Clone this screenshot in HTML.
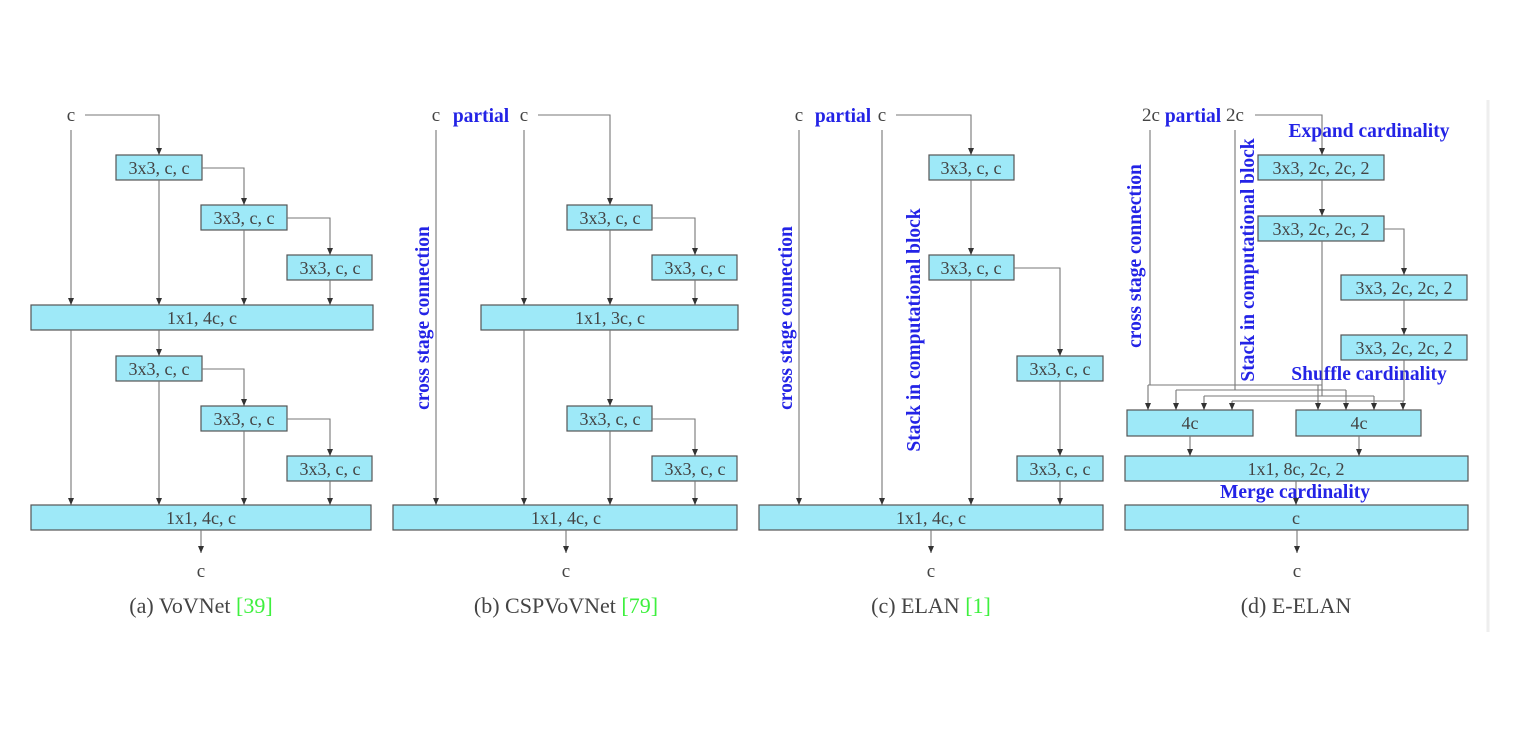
<!DOCTYPE html>
<html><head><meta charset="utf-8"><style>
html,body{margin:0;padding:0;background:#fff;}
svg{display:block;}
.b{fill:#9ee9f8;stroke:#555;stroke-width:1.2;}
.l{stroke:#777;stroke-width:1.1;fill:none;}
.t{font-family:"Liberation Serif",serif;font-size:18px;fill:#444;text-anchor:middle;}
.c{font-family:"Liberation Serif",serif;font-size:19px;fill:#444;text-anchor:middle;}
.bl{font-family:"Liberation Serif",serif;font-size:19.5px;font-weight:bold;fill:#2323e6;text-anchor:middle;}
.cap{font-family:"Liberation Serif",serif;font-size:22px;fill:#444;text-anchor:middle;}
.g{fill:#3ef03e;}
</style></head><body>
<svg width="1522" height="733" viewBox="0 0 1522 733">
<defs><marker id="a" markerWidth="8" markerHeight="8" refX="7" refY="4" orient="auto" markerUnits="userSpaceOnUse"><path d="M0,1 L7,4 L0,7 z" fill="#333"/></marker></defs>
<line x1="1488" y1="100" x2="1488" y2="632" stroke="#eee" stroke-width="3"/>

<!-- Panel A -->
<text class="c" x="71" y="121">c</text>
<path class="l" d="M85,115 H159 V155" marker-end="url(#a)"/>
<path class="l" d="M71,130 V305" marker-end="url(#a)"/>
<rect class="b" x="116" y="155" width="86" height="25"/><text class="t" x="159" y="174">3x3, c, c</text>
<path class="l" d="M159,180 V305" marker-end="url(#a)"/>
<path class="l" d="M202,168 H244 V205" marker-end="url(#a)"/>
<rect class="b" x="201" y="205" width="86" height="25"/><text class="t" x="244" y="224">3x3, c, c</text>
<path class="l" d="M244,230 V305" marker-end="url(#a)"/>
<path class="l" d="M287,218 H330 V255" marker-end="url(#a)"/>
<rect class="b" x="287" y="255" width="85" height="25"/><text class="t" x="330" y="274">3x3, c, c</text>
<path class="l" d="M330,280 V305" marker-end="url(#a)"/>
<rect class="b" x="31" y="305" width="342" height="25"/><text class="t" x="202" y="324">1x1, 4c, c</text>
<path class="l" d="M71,330 V505" marker-end="url(#a)"/>
<path class="l" d="M159,330 V356" marker-end="url(#a)"/>
<rect class="b" x="116" y="356" width="86" height="25"/><text class="t" x="159" y="375">3x3, c, c</text>
<path class="l" d="M159,381 V505" marker-end="url(#a)"/>
<path class="l" d="M202,369 H244 V406" marker-end="url(#a)"/>
<rect class="b" x="201" y="406" width="86" height="25"/><text class="t" x="244" y="425">3x3, c, c</text>
<path class="l" d="M244,431 V505" marker-end="url(#a)"/>
<path class="l" d="M287,419 H330 V456" marker-end="url(#a)"/>
<rect class="b" x="287" y="456" width="85" height="25"/><text class="t" x="330" y="475">3x3, c, c</text>
<path class="l" d="M330,481 V505" marker-end="url(#a)"/>
<rect class="b" x="31" y="505" width="340" height="25"/><text class="t" x="201" y="524">1x1, 4c, c</text>
<path class="l" d="M201,530 V553" marker-end="url(#a)"/>
<text class="c" x="201" y="577">c</text>
<text class="cap" x="201" y="613">(a) VoVNet <tspan class="g">[39]</tspan></text>

<!-- Panel B -->
<text class="c" x="436" y="121">c</text><text class="bl" x="481" y="122">partial</text><text class="c" x="524" y="121">c</text>
<path class="l" d="M538,115 H610 V205" marker-end="url(#a)"/>
<path class="l" d="M524,130 V305" marker-end="url(#a)"/>
<path class="l" d="M436,130 V505" marker-end="url(#a)"/>
<text class="bl" transform="translate(429,318) rotate(-90)">cross stage connection</text>
<rect class="b" x="567" y="205" width="85" height="25"/><text class="t" x="610" y="224">3x3, c, c</text>
<path class="l" d="M610,230 V305" marker-end="url(#a)"/>
<path class="l" d="M652,218 H695 V255" marker-end="url(#a)"/>
<rect class="b" x="652" y="255" width="85" height="25"/><text class="t" x="695" y="274">3x3, c, c</text>
<path class="l" d="M695,280 V305" marker-end="url(#a)"/>
<rect class="b" x="481" y="305" width="257" height="25"/><text class="t" x="610" y="324">1x1, 3c, c</text>
<path class="l" d="M524,330 V505" marker-end="url(#a)"/>
<path class="l" d="M610,330 V406" marker-end="url(#a)"/>
<rect class="b" x="567" y="406" width="85" height="25"/><text class="t" x="610" y="425">3x3, c, c</text>
<path class="l" d="M610,431 V505" marker-end="url(#a)"/>
<path class="l" d="M652,419 H695 V456" marker-end="url(#a)"/>
<rect class="b" x="652" y="456" width="85" height="25"/><text class="t" x="695" y="475">3x3, c, c</text>
<path class="l" d="M695,481 V505" marker-end="url(#a)"/>
<rect class="b" x="393" y="505" width="344" height="25"/><text class="t" x="566" y="524">1x1, 4c, c</text>
<path class="l" d="M566,530 V553" marker-end="url(#a)"/>
<text class="c" x="566" y="577">c</text>
<text class="cap" x="566" y="613">(b) CSPVoVNet <tspan class="g">[79]</tspan></text>

<!-- Panel C -->
<text class="c" x="799" y="121">c</text><text class="bl" x="843" y="122">partial</text><text class="c" x="882" y="121">c</text>
<path class="l" d="M896,115 H971 V155" marker-end="url(#a)"/>
<path class="l" d="M799,130 V505" marker-end="url(#a)"/>
<path class="l" d="M882,130 V505" marker-end="url(#a)"/>
<text class="bl" transform="translate(792,318) rotate(-90)">cross stage connection</text>
<text class="bl" transform="translate(920,330) rotate(-90)">Stack in computational block</text>
<rect class="b" x="929" y="155" width="85" height="25"/><text class="t" x="971" y="174">3x3, c, c</text>
<path class="l" d="M971,180 V255" marker-end="url(#a)"/>
<rect class="b" x="929" y="255" width="85" height="25"/><text class="t" x="971" y="274">3x3, c, c</text>
<path class="l" d="M971,280 V505" marker-end="url(#a)"/>
<path class="l" d="M1014,268 H1060 V356" marker-end="url(#a)"/>
<rect class="b" x="1017" y="356" width="86" height="25"/><text class="t" x="1060" y="375">3x3, c, c</text>
<path class="l" d="M1060,381 V456" marker-end="url(#a)"/>
<rect class="b" x="1017" y="456" width="86" height="25"/><text class="t" x="1060" y="475">3x3, c, c</text>
<path class="l" d="M1060,481 V505" marker-end="url(#a)"/>
<rect class="b" x="759" y="505" width="344" height="25"/><text class="t" x="931" y="524">1x1, 4c, c</text>
<path class="l" d="M931,530 V553" marker-end="url(#a)"/>
<text class="c" x="931" y="577">c</text>
<text class="cap" x="931" y="613">(c) ELAN <tspan class="g">[1]</tspan></text>

<!-- Panel D -->
<text class="c" x="1151" y="121">2c</text><text class="bl" x="1193" y="122">partial</text><text class="c" x="1235" y="121">2c</text>
<path class="l" d="M1255,115 H1322 V155" marker-end="url(#a)"/>
<text class="bl" x="1369" y="137">Expand cardinality</text>
<text class="bl" transform="translate(1141,256) rotate(-90)">cross stage connection</text>
<text class="bl" transform="translate(1254,260) rotate(-90)">Stack in computational block</text>
<rect class="b" x="1258" y="155" width="126" height="25"/><text class="t" x="1321" y="174">3x3, 2c, 2c, 2</text>
<path class="l" d="M1322,180 V216" marker-end="url(#a)"/>
<rect class="b" x="1258" y="216" width="126" height="25"/><text class="t" x="1321" y="235">3x3, 2c, 2c, 2</text>
<path class="l" d="M1384,229 H1404 V275" marker-end="url(#a)"/>
<rect class="b" x="1341" y="275" width="126" height="25"/><text class="t" x="1404" y="294">3x3, 2c, 2c, 2</text>
<path class="l" d="M1404,300 V335" marker-end="url(#a)"/>
<rect class="b" x="1341" y="335" width="126" height="25"/><text class="t" x="1404" y="354">3x3, 2c, 2c, 2</text>
<text class="bl" x="1369" y="380">Shuffle cardinality</text>
<path class="l" d="M1150,130 V385 M1235,130 V390 M1322,241 V396 M1404,360 V401"/>
<path class="l" d="M1148,385 H1322 M1176,390 H1346 M1204,396 H1374 M1232,401 H1404"/>
<path class="l" d="M1148,385 V410" marker-end="url(#a)"/>
<path class="l" d="M1176,390 V410" marker-end="url(#a)"/>
<path class="l" d="M1204,396 V410" marker-end="url(#a)"/>
<path class="l" d="M1232,401 V410" marker-end="url(#a)"/>
<path class="l" d="M1318,385 V410" marker-end="url(#a)"/>
<path class="l" d="M1346,390 V410" marker-end="url(#a)"/>
<path class="l" d="M1374,396 V410" marker-end="url(#a)"/>
<path class="l" d="M1403,401 V410" marker-end="url(#a)"/>
<rect class="b" x="1127" y="410" width="126" height="26"/><text class="t" x="1190" y="429">4c</text>
<rect class="b" x="1296" y="410" width="125" height="26"/><text class="t" x="1359" y="429">4c</text>
<path class="l" d="M1190,436 V456" marker-end="url(#a)"/>
<path class="l" d="M1359,436 V456" marker-end="url(#a)"/>
<rect class="b" x="1125" y="456" width="343" height="25"/><text class="t" x="1296" y="475">1x1, 8c, 2c, 2</text>
<path class="l" d="M1296,481 V505" marker-end="url(#a)"/>
<text class="bl" x="1295" y="498">Merge cardinality</text>
<rect class="b" x="1125" y="505" width="343" height="25"/><text class="t" x="1296" y="524">c</text>
<path class="l" d="M1297,530 V553" marker-end="url(#a)"/>
<text class="c" x="1297" y="577">c</text>
<text class="cap" x="1296" y="613">(d) E-ELAN</text>
</svg>
</body></html>
